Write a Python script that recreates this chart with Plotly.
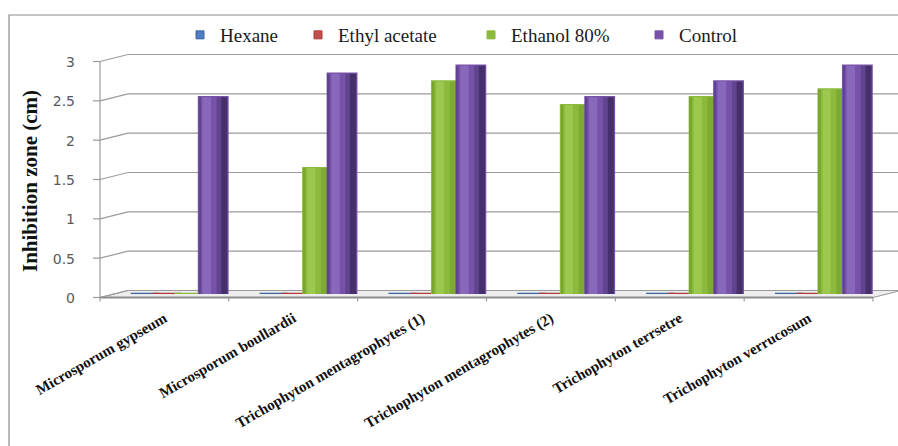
import plotly.graph_objects as go

# ---- data -------------------------------------------------------------
categories = [
    "Microsporum gypseum",
    "Microsporum boullardii",
    "Trichophyton mentagrophytes (1)",
    "Trichophyton mentagrophytes (2)",
    "Trichophyton terrsetre",
    "Trichophyton verrucosum",
]
series_names = ["Hexane", "Ethyl acetate", "Ethanol 80%", "Control"]
hexane = [0, 0, 0, 0, 0, 0]
ethyl_acetate = [0, 0, 0, 0, 0, 0]
ethanol_80 = [0, 1.6, 2.7, 2.4, 2.5, 2.6]
control = [2.5, 2.8, 2.9, 2.5, 2.7, 2.9]
y_ticks = [0, 0.5, 1, 1.5, 2, 2.5, 3]
y_title = "Inhibition zone (cm)"

# ---- geometry / style -------------------------------------------------
W, H = 898, 446
PLOT_L, PLOT_R, PLOT_T, PLOT_B = 114, 887, 58, 294
Y_MIN, Y_MAX = 0, 3
DX, DY = 14, 3.5          # half depth of the pseudo-3D walls (px)
BAR_W = 0.22
OFFSETS = [-0.26, -0.09, 0.08, 0.27]
LEGEND_LEFT = [180, 298, 471, 639]   # px, left edge of each legend entry

STYLES = [
    dict(main="#4f7fbf", line="#3a65a0", strips=[]),
    dict(main="#c0504d", line="#b03a37", strips=[]),
    dict(main="#8cba3c", line="#8cba3c",
         strips=[(0.0, 0.07, "#77a52e"), (0.14, 0.42, "#9cc850"),
                 (0.62, 0.82, "#7eaa33"), (0.82, 1.0, "#689027")]),
    dict(main="#7752a8", line="#7752a8",
         strips=[(0.0, 0.06, "#5f4290"), (0.12, 0.42, "#8868bb"),
                 (0.62, 0.78, "#60448f"), (0.78, 1.0, "#46306c")]),
]
GRID = "#9a9a9a"


def fx(px):
    return (px - PLOT_L) / (PLOT_R - PLOT_L)


def fy(py):
    return (PLOT_B - py) / (PLOT_B - PLOT_T)


def val_py(v):
    return PLOT_B - (v - Y_MIN) / (Y_MAX - Y_MIN) * (PLOT_B - PLOT_T)


def seg(x0, y0, x1, y1, color=GRID, width=1.2):
    return dict(type="line", xref="paper", yref="paper",
                x0=fx(x0), y0=fy(y0), x1=fx(x1), y1=fy(y1),
                line=dict(color=color, width=width), layer="below")


fig = go.Figure()

# ---- bars (cylinders approximated with shaded strips) -----------------
values = [hexane, ethyl_acetate, ethanol_80, control]
for s, (name, vals) in enumerate(zip(series_names, values)):
    st = STYLES[s]
    xs = [i + OFFSETS[s] for i in range(len(categories))]
    fig.add_trace(go.Bar(
        x=xs, y=vals, width=BAR_W, name=name, showlegend=False,
        marker=dict(color=st["main"], line=dict(color=st["line"], width=2.5)),
        hoverinfo="skip",
    ))
    for a, b, col in st["strips"]:
        fig.add_trace(go.Bar(
            x=[x - BAR_W / 2 + (a + b) / 2 * BAR_W for x in xs], y=vals,
            width=(b - a) * BAR_W, showlegend=False,
            marker=dict(color=col, line=dict(width=0)), hoverinfo="skip",
        ))

# legend entries, one small legend per series so each can be placed freely
legend_layouts = {}
for s, name in enumerate(series_names):
    st = STYLES[s]
    key = "legend" if s == 0 else f"legend{s + 1}"
    fig.add_trace(go.Scatter(
        x=[None], y=[None], mode="markers", name=name, legend=key,
        marker=dict(symbol="square", size=8, color=st["main"],
                    line=dict(color=st["line"], width=1)),
    ))
    legend_layouts[key] = dict(
        orientation="h", x=fx(LEGEND_LEFT[s]), xanchor="left",
        y=fy(35), yanchor="middle", bgcolor="rgba(0,0,0,0)",
        font=dict(family="Liberation Serif", size=19, color="#1a1a1a"))

# ---- pseudo-3D walls, floor and grid ----------------------------------
shapes = []
# outer chart border
shapes.append(dict(type="rect", xref="paper", yref="paper",
                   x0=fx(9), y0=fy(15), x1=fx(930), y1=fy(480),
                   line=dict(color="#8a8a8a", width=1.2), layer="below"))
# floor
y0f, y0b = val_py(0) + DY, val_py(0) - DY
xl_f, xr_f = PLOT_L - DX, PLOT_R - DX
xl_b, xr_b = PLOT_L + DX, PLOT_R + DX
path = (f"M {fx(xl_f)},{fy(y0f)} L {fx(xr_f)},{fy(y0f)} "
        f"L {fx(xr_b)},{fy(y0b)} L {fx(xl_b)},{fy(y0b)} Z")
shapes.append(dict(type="path", xref="paper", yref="paper", path=path,
                   fillcolor="#ededed", line=dict(color=GRID, width=1.2),
                   layer="below"))
shapes.append(seg(xl_f, y0f, xr_f, y0f, color="#8c8c8c", width=2))
# gridlines: tick, slanted side wall, back wall
for v in y_ticks:
    yp = val_py(v)
    shapes.append(seg(xl_f - 7, yp + DY, xl_f, yp + DY))
    shapes.append(seg(xl_f, yp + DY, xl_b, yp - DY))
    if v > Y_MIN:
        shapes.append(seg(xl_b, yp - DY, 905, yp - DY))
# vertical axis line
shapes.append(seg(xl_f, val_py(Y_MIN) + DY, xl_f, val_py(Y_MAX) + DY))
# category boundary ticks
n = len(categories)
for k in range(n + 1):
    xb = PLOT_L + k * (PLOT_R - PLOT_L) / n - DX
    shapes.append(seg(xb, y0f, xb, y0f + 4))

fig.update_layout(
    width=W, height=H,
    margin=dict(l=PLOT_L, r=W - PLOT_R, t=PLOT_T, b=H - PLOT_B),
    paper_bgcolor="white", plot_bgcolor="rgba(0,0,0,0)",
    barmode="overlay",
    shapes=shapes,
    showlegend=True,
    xaxis=dict(range=[-0.5, n - 0.5], tickvals=list(range(n)),
               ticktext=categories, tickangle=-30, showgrid=False,
               zeroline=False, showline=False, ticks="",
               ticklabelshift=-DX, ticklabelstandoff=12,
               tickfont=dict(family="Liberation Serif", size=15,
                             color="#111111", weight="bold")),
    yaxis=dict(range=[Y_MIN, Y_MAX], tickvals=y_ticks,
               ticktext=[f"{v:g}" for v in y_ticks],
               showgrid=False, zeroline=False, showline=False, ticks="",
               ticklabelshift=4, ticklabelstandoff=38,
               tickfont=dict(family="DejaVu Sans", size=14, color="#595959")),
    annotations=[dict(text=y_title, xref="paper", yref="paper",
                      x=fx(30), y=fy(181), textangle=-90, showarrow=False,
                      xanchor="center", yanchor="middle",
                      font=dict(family="Liberation Serif", size=21,
                                color="#111111", weight="bold"))],
    **legend_layouts,
)

fig.write_html("out.html")
